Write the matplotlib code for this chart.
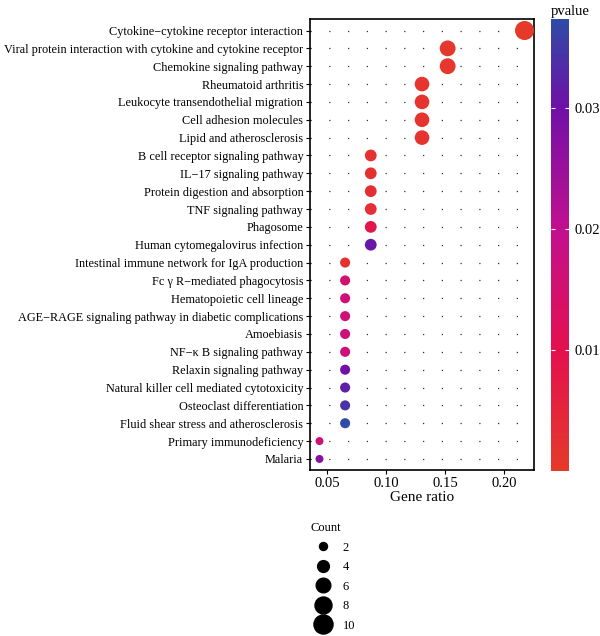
import matplotlib.pyplot as plt
import numpy as np
from matplotlib.colors import LinearSegmentedColormap
from matplotlib.lines import Line2D

plt.rcParams['font.family'] = ['Liberation Serif', 'DejaVu Serif']

pathways = [
    "Cytokine\u2212cytokine receptor interaction",
    "Viral protein interaction with cytokine and cytokine receptor",
    "Chemokine signaling pathway",
    "Rheumatoid arthritis",
    "Leukocyte transendothelial migration",
    "Cell adhesion molecules",
    "Lipid and atherosclerosis",
    "B cell receptor signaling pathway",
    "IL\u221217 signaling pathway",
    "Protein digestion and absorption",
    "TNF signaling pathway",
    "Phagosome",
    "Human cytomegalovirus infection",
    "Intestinal immune network for IgA production",
    "Fc \u03b3 R\u2212mediated phagocytosis",
    "Hematopoietic cell lineage",
    "AGE\u2212RAGE signaling pathway in diabetic complications",
    "Amoebiasis",
    "NF\u2212\u03ba B signaling pathway",
    "Relaxin signaling pathway",
    "Natural killer cell mediated cytotoxicity",
    "Osteoclast differentiation",
    "Fluid shear stress and atherosclerosis",
    "Primary immunodeficiency",
    "Malaria",
]
counts = [10, 7, 7, 6, 6, 6, 6, 4, 4, 4, 4, 4, 4, 3, 3, 3, 3, 3, 3, 3, 3, 3, 3, 2, 2]
gene_ratio = [c / 46 for c in counts]
pvalue = [0.00001, 0.0006, 0.0008, 0.0012, 0.0014, 0.0015, 0.0016,
          0.0022, 0.0024, 0.0028, 0.0030, 0.0090, 0.0310,
          0.0020, 0.0150, 0.0165, 0.0165, 0.0170, 0.0168, 0.0300,
          0.0320, 0.0340, 0.0373, 0.0160, 0.0270]
legend_counts = [2, 4, 6, 8, 10]


def marker_diam(c):
    # diameter in points (figure is 100 dpi)
    return np.sqrt(64 + 37.5 * (np.asarray(c) - 2)) * 0.72


vmax = 0.0373
cmap = LinearSegmentedColormap.from_list(
    "pv", [(0, "#E53A2A"), (0.01 / vmax, "#E4104E"), (0.02 / vmax, "#C2108F"),
           (0.03 / vmax, "#7010A8"), (1, "#2E4BA5")])

fig = plt.figure(figsize=(6, 6.36), dpi=100)
ax = fig.add_axes([0.517, 0.261, 0.373, 0.709])

n = len(pathways)
ypos = np.arange(n)[::-1]

for y in ypos:
    ax.axhline(y, color="#333333", lw=0.9, dashes=(1, 14), zorder=1)

sc = ax.scatter(gene_ratio, ypos, s=marker_diam(counts) ** 2, c=pvalue,
                cmap=cmap, vmin=0, vmax=vmax, zorder=3, linewidths=0)

ax.set_xlim(0.0356, 0.2254)
ax.set_ylim(-0.62, n - 1 + 0.64)
ax.set_yticks(ypos)
ax.set_yticklabels(pathways, fontsize=8.8)
ax.set_xticks([0.05, 0.10, 0.15, 0.20])
ax.set_xticklabels(["0.05", "0.10", "0.15", "0.20"], fontsize=10.5)
ax.tick_params(length=3, width=0.8, pad=2)
ax.set_xlabel("Gene ratio", fontsize=11, labelpad=1)
for sp in ax.spines.values():
    sp.set_linewidth(1.2)

cax = fig.add_axes([0.918, 0.259, 0.030, 0.711])
cb = fig.colorbar(sc, cax=cax)
cb.outline.set_visible(False)
cb.set_ticks([0.01, 0.02, 0.03])
cb.set_ticklabels(["0.01", "0.02", "0.03"])
cax.tick_params(direction="in", color="white", length=3, width=0.8,
                left=True, right=True, labelsize=10.5, pad=4)
cax.set_title("pvalue", fontsize=10.5, loc="left", pad=3)

handles = [Line2D([], [], marker="o", ls="", color="black",
                  markersize=marker_diam(c)) for c in legend_counts]
leg = fig.legend(handles, [str(c) for c in legend_counts], title="Count",
                 loc="upper left", bbox_to_anchor=(0.513, 0.183),
                 frameon=False, fontsize=9, title_fontsize=9,
                 labelspacing=0.6, handletextpad=0.6, alignment="left",
                 borderaxespad=0, borderpad=0.2)

fig.savefig("out.png", dpi=100)
